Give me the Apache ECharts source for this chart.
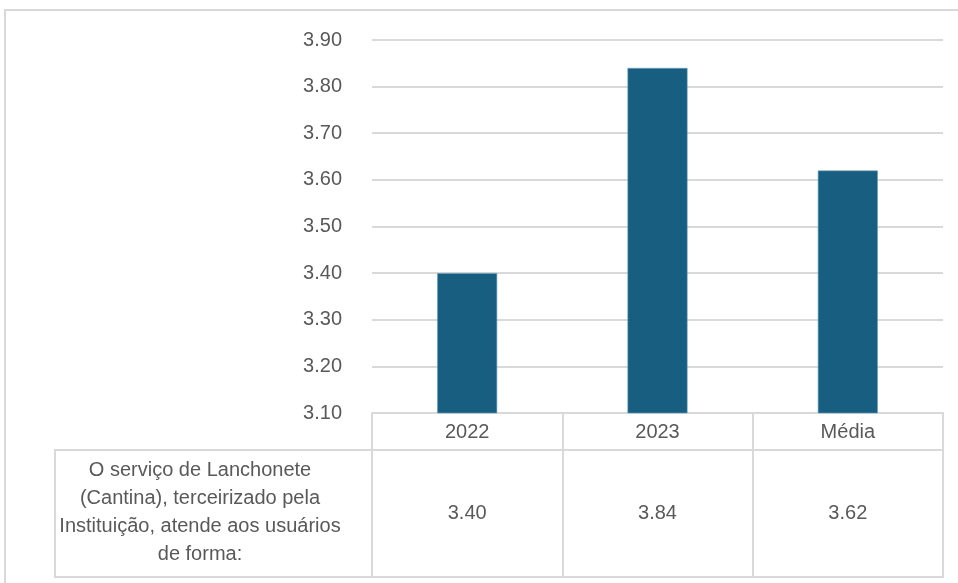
<!DOCTYPE html>
<html>
<head>
<meta charset="utf-8">
<script src="https://cdn.jsdelivr.net/npm/echarts@6/dist/echarts.min.js"></script>
<style>html,body{margin:0;padding:0;background:#fff;}#c{width:958px;height:583px;}</style>
</head>
<body>
<div id="c"></div>
<script>
var categories = ['2022', '2023', 'Média'];
var values = [3.40, 3.84, 3.62];
var yMin = 3.1, yMax = 3.9, yStep = 0.1;
var rowLabel = 'O serviço de Lanchonete\n(Cantina), terceirizado pela\nInstituição, atende aos usuários\nde forma:';

var FONT = "'Liberation Sans', Arial, sans-serif";
var FS = 20;
var TXT = '#595959';
var LINE = '#d9d9d9';

var chart = echarts.init(document.getElementById('c'), null, {renderer: 'canvas'});
chart.setOption({
  animation: false,
  backgroundColor: '#fff',
  grid: [
    {left: 372, right: 15, top: 40, bottom: 170, containLabel: false},
    {left: 55, right: 15, top: 450, bottom: 6, show: true, borderColor: LINE, borderWidth: 2, backgroundColor: 'transparent'},
    {left: 372, right: 15, top: 450, bottom: 6}
  ],
  xAxis: [
    {
      type: 'category', gridIndex: 0, data: categories, boundaryGap: true,
      axisLine: {show: true, lineStyle: {color: LINE, width: 2}},
      axisTick: {show: true, length: 37, lineStyle: {color: LINE, width: 2}},
      axisLabel: {show: true, margin: 9, fontFamily: FONT, fontSize: FS, color: TXT},
      splitLine: {show: false}
    },
    {type: 'value', gridIndex: 1, min: 0, max: 1, show: false},
    {
      type: 'category', gridIndex: 2, data: categories, boundaryGap: true,
      axisLine: {show: false}, axisTick: {show: false}, axisLabel: {show: false},
      splitLine: {show: true, showMinLine: true, showMaxLine: true, lineStyle: {color: LINE, width: 2}}
    }
  ],
  yAxis: [
    {
      type: 'value', gridIndex: 0, min: yMin, max: yMax, interval: yStep,
      axisLine: {show: false}, axisTick: {show: false},
      axisLabel: {margin: 30, fontFamily: FONT, fontSize: FS, color: TXT,
        formatter: function (v) { return v.toFixed(2); }},
      splitLine: {show: true, showMinLine: false, lineStyle: {color: LINE, width: 2}}
    },
    {type: 'value', gridIndex: 1, min: 0, max: 1, show: false},
    {type: 'value', gridIndex: 2, min: 0, max: 1, show: false}
  ],
  series: [
    {
      type: 'bar', xAxisIndex: 0, yAxisIndex: 0, data: values, barWidth: 60,
      itemStyle: {color: '#175E80', borderColor: '#6aa0bb', borderWidth: 0.6}
    },
    {
      type: 'scatter', xAxisIndex: 2, yAxisIndex: 2, symbolSize: 1,
      itemStyle: {color: 'rgba(0,0,0,0)', opacity: 1},
      data: values.map(function (v, i) { return [i, 0.5]; }),
      label: {show: true, position: 'inside', fontFamily: FONT, fontSize: FS, color: TXT, opacity: 1,
        formatter: function (p) { return values[p.dataIndex].toFixed(2); }}
    }
  ],
  graphic: [
    {type: 'rect', silent: true, z: -1, shape: {x: 5, y: 10, width: 1000, height: 600},
      style: {fill: 'none', stroke: LINE, lineWidth: 2}},
    {type: 'text', silent: true, x: 200, y: 512,
      style: {text: rowLabel, align: 'center', verticalAlign: 'middle',
        fontFamily: FONT, fontSize: FS, lineHeight: 28, fill: TXT}}
  ]
});
</script>
</body>
</html>
